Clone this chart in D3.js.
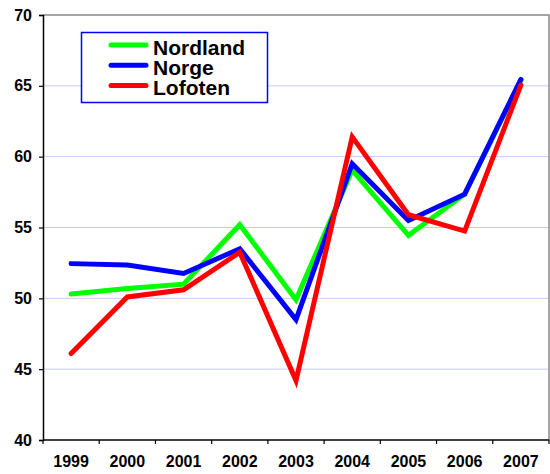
<!DOCTYPE html>
<html>
<head>
<meta charset="utf-8">
<script src="https://cdn.jsdelivr.net/npm/d3@7"></script>
<style>
  html, body { margin: 0; padding: 0; background: #fff; }
  svg { display: block; font-family: "Liberation Sans", Arial, Helvetica, sans-serif; }
</style>
</head>
<body>
<svg id="chart" width="550" height="474"></svg>
<script>
// Yearly values per region
const years = ["1999", "2000", "2001", "2002", "2003", "2004", "2005", "2006", "2007"];
const nordland = [50.3, 50.7, 51.0, 55.2, 49.9, 59.05, 54.45, 57.35, 65.4];
const norge    = [52.45, 52.35, 51.75, 53.5, 48.5, 59.5, 55.5, 57.35, 65.45];
const lofoten  = [46.1, 50.1, 50.6, 53.25, 44.2, 61.4, 55.9, 54.75, 65.05];
const yTicks = [40, 45, 50, 55, 60, 65, 70];

const seriesList = [
  { name: "Nordland", values: nordland, color: "#00ff00" },
  { name: "Norge",    values: norge,    color: "#0000ff" },
  { name: "Lofoten",  values: lofoten,  color: "#ff0000" }
];

const svg = d3.select("#chart");
const plotLeft = 43, plotRight = 549, plotTop = 15, plotBottom = 440;

const x = d3.scaleBand().domain(years).range([plotLeft, plotRight]).padding(0);
const y = d3.scaleLinear().domain([40, 70]).range([plotBottom, plotTop]);
const cx = d => x(d) + x.bandwidth() / 2;

// horizontal gridlines
svg.append("g")
  .selectAll("line")
  .data(yTicks.filter(t => t > 40 && t < 70))
  .join("line")
  .attr("x1", plotLeft).attr("x2", plotRight)
  .attr("y1", d => y(d)).attr("y2", d => y(d))
  .attr("stroke", "#c8c8ff").attr("stroke-width", 1);

// plot frame: grey top and right edges
svg.append("path")
  .attr("d", `M${plotLeft},${plotTop}H${plotRight}V${plotBottom}`)
  .attr("fill", "none").attr("stroke", "#888").attr("stroke-width", 1.5);

// y axis
const yAxis = svg.append("g")
  .attr("transform", `translate(${plotLeft},0)`)
  .call(d3.axisLeft(y).tickValues(yTicks).tickSize(4).tickPadding(7).tickFormat(d3.format("d")));
yAxis.select(".domain").attr("stroke", "#000").attr("stroke-width", 1.5);
yAxis.selectAll(".tick line").attr("stroke", "#000").attr("stroke-width", 1.2);
yAxis.selectAll("text")
  .attr("font-size", 16).attr("font-weight", "bold").attr("fill", "#000")
  .attr("font-family", "'Liberation Sans', Arial, sans-serif");

// x axis: labels centred in each band, ticks on band boundaries
const xAxis = svg.append("g")
  .attr("transform", `translate(0,${plotBottom})`)
  .call(d3.axisBottom(x).tickSize(0).tickPadding(16));
xAxis.select(".domain").remove();
xAxis.selectAll("text")
  .attr("font-size", 16).attr("font-weight", "bold").attr("fill", "#000")
  .attr("font-family", "'Liberation Sans', Arial, sans-serif");

svg.append("line")
  .attr("x1", plotLeft).attr("x2", plotRight)
  .attr("y1", plotBottom).attr("y2", plotBottom)
  .attr("stroke", "#000").attr("stroke-width", 1.5);

svg.append("g")
  .selectAll("line")
  .data(years.map(d => x(d)).concat([plotRight]))
  .join("line")
  .attr("x1", d => d).attr("x2", d => d)
  .attr("y1", plotBottom).attr("y2", plotBottom + 4)
  .attr("stroke", "#000").attr("stroke-width", 1.2);

// series lines
const line = d3.line()
  .x((d, i) => cx(years[i]))
  .y(d => y(d));

svg.append("g")
  .selectAll("path")
  .data(seriesList)
  .join("path")
  .attr("d", s => line(s.values))
  .attr("fill", "none")
  .attr("stroke", s => s.color)
  .attr("stroke-width", 5)
  .attr("stroke-linejoin", "miter")
  .attr("stroke-linecap", "round");

// legend
const legend = svg.append("g");
legend.append("rect")
  .attr("x", 81.5).attr("y", 32.5).attr("width", 186).attr("height", 70)
  .attr("fill", "#fff").attr("stroke", "#0000ff").attr("stroke-width", 1.5);

const items = legend.selectAll("g.item")
  .data(seriesList)
  .join("g")
  .attr("class", "item")
  .attr("transform", (d, i) => `translate(0,${45 + i * 20.2})`);
items.append("line")
  .attr("x1", 111).attr("x2", 146)
  .attr("stroke", d => d.color).attr("stroke-width", 5)
  .attr("stroke-linecap", "round");
items.append("text")
  .attr("x", 153).attr("y", 9.5)
  .attr("font-size", 21).attr("font-weight", "bold").attr("fill", "#000")
  .text(d => d.name);
</script>
</body>
</html>
